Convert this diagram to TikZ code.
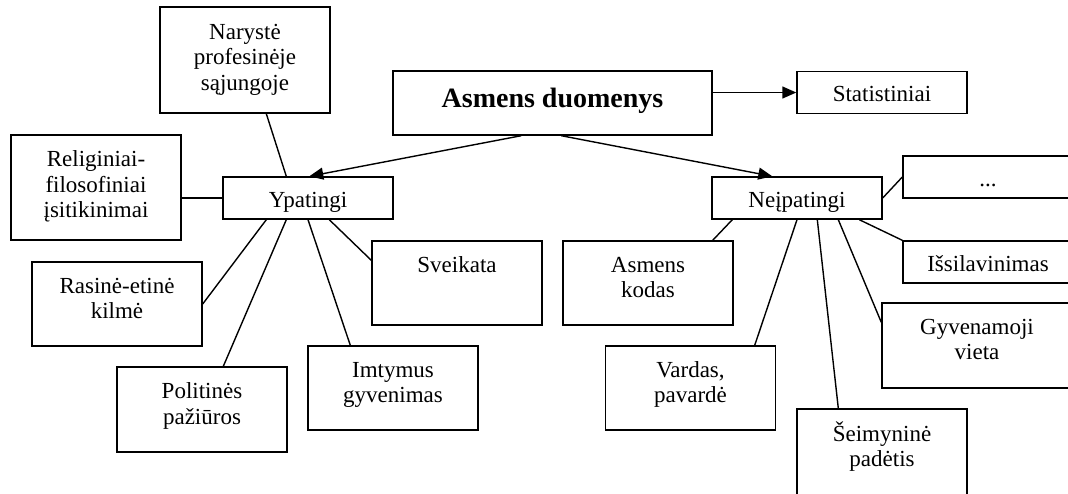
\documentclass[tikz,border=0pt]{standalone}
\usepackage{fontspec}
\setmainfont{Liberation Serif}
\usetikzlibrary{arrows.meta,calc}
\begin{document}
\begin{tikzpicture}[x=1pt,y=-1pt,
  box/.style={draw, line width=1.4pt, rectangle, inner sep=0pt, align=center,
    minimum width=170pt, font=\fontsize{23}{25.5}\selectfont},
  one/.style={minimum height=42pt, text height=22pt, text depth=4pt},
  two/.style={minimum height=84pt, text height=40pt, text depth=11pt},
  three/.style={minimum height=106pt, text height=66pt, text depth=6pt},
  link/.style={line width=1.4pt},
  arr/.style={line width=1.4pt, -{Triangle[length=14pt,width=12pt]}},
]
\clip (0,0) rectangle (1068,493);

% root and its two groups
\node[box, minimum width=319pt, minimum height=64pt, text height=20pt, text depth=12pt,
      font=\fontsize{28}{32}\selectfont\bfseries] (asm) at (552.5,103) {Asmens duomenys};
\node[box, one] (stat) at (882,92.5) {Statistiniai};
\node[box, one] (ypat) at (308,198) {Ypatingi};
\node[box, one] (neip) at (797,198) {Neįpatingi};

% special categories
\node[box, three] (nary) at (245,60) {Narystė\\profesinėje\\sąjungoje};
\node[box, three, minimum height=105pt] (relig) at (96,187.5) {Religiniai-\\filosofiniai\\įsitikinimai};
\node[box, two] (rasa) at (117,304) {Rasinė-etinė\\kilmė};
\node[box, two, minimum height=85pt] (pol) at (202,409.5) {Politinės\\pažiūros};
\node[box, two] (imt) at (393,388) {Imtymus\\gyvenimas};
\node[box, two] (sveik) at (457,283) {Sveikata\\\strut};

% ordinary categories
\node[box, two] (kod) at (648,283) {Asmens\\kodas};
\node[box, two] (vard) at (690.5,388) {Vardas,\\pavardė};
\node[box, two, minimum height=86pt] (seim) at (882,452) {Šeimyninė\\padėtis};
\node[box, two, minimum width=190pt, minimum height=85pt, text depth=12pt] (gyv) at (977,345.5) {Gyvenamoji\\vieta};
\node[box, one] (issil) at (988,262) {Išsilavinimas};
\node[box, one] (dots) at (988,177) {...};

% arrows from the root
\draw[arr] ($(asm.south west)+(129,0)$) -- ($(ypat.north west)+(87,0)$);
\draw[arr] ($(asm.south west)+(169,0)$) -- ($(neip.north west)+(61,0)$);
\draw[arr] (asm.east |- stat.west) -- (stat.west);

% links of the special group
\draw[link] ($(nary.south west)+(107,0)$) -- ($(ypat.north west)+(64,0)$);
\draw[link] (relig.east |- ypat.west) -- (ypat.west);
\draw[link] ($(ypat.south west)+(44,0)$) -- (rasa.east);
\draw[link] ($(ypat.south west)+(64,0)$) -- ($(pol.north west)+(107,0)$);
\draw[link] (ypat.south) -- ($(imt.north west)+(43,0)$);
\draw[link] ($(ypat.south west)+(107,0)$) -- ($(sveik.north west)+(0,20)$);

% links of the ordinary group
\draw[link] ($(neip.south west)+(21,0)$) -- ($(kod.north east)+(-21,0)$);
\draw[link] (neip.south) -- ($(vard.north east)+(-21.5,0)$);
\draw[link] ($(neip.south west)+(106,0)$) -- ($(seim.north west)+(42,0)$);
\draw[link] ($(neip.south west)+(127,0)$) -- ($(gyv.north west)+(0,20)$);
\draw[link] ($(neip.south west)+(148,0)$) -- (issil.north west);
\draw[link] (neip.east) -- (dots.west);
\end{tikzpicture}
\end{document}
